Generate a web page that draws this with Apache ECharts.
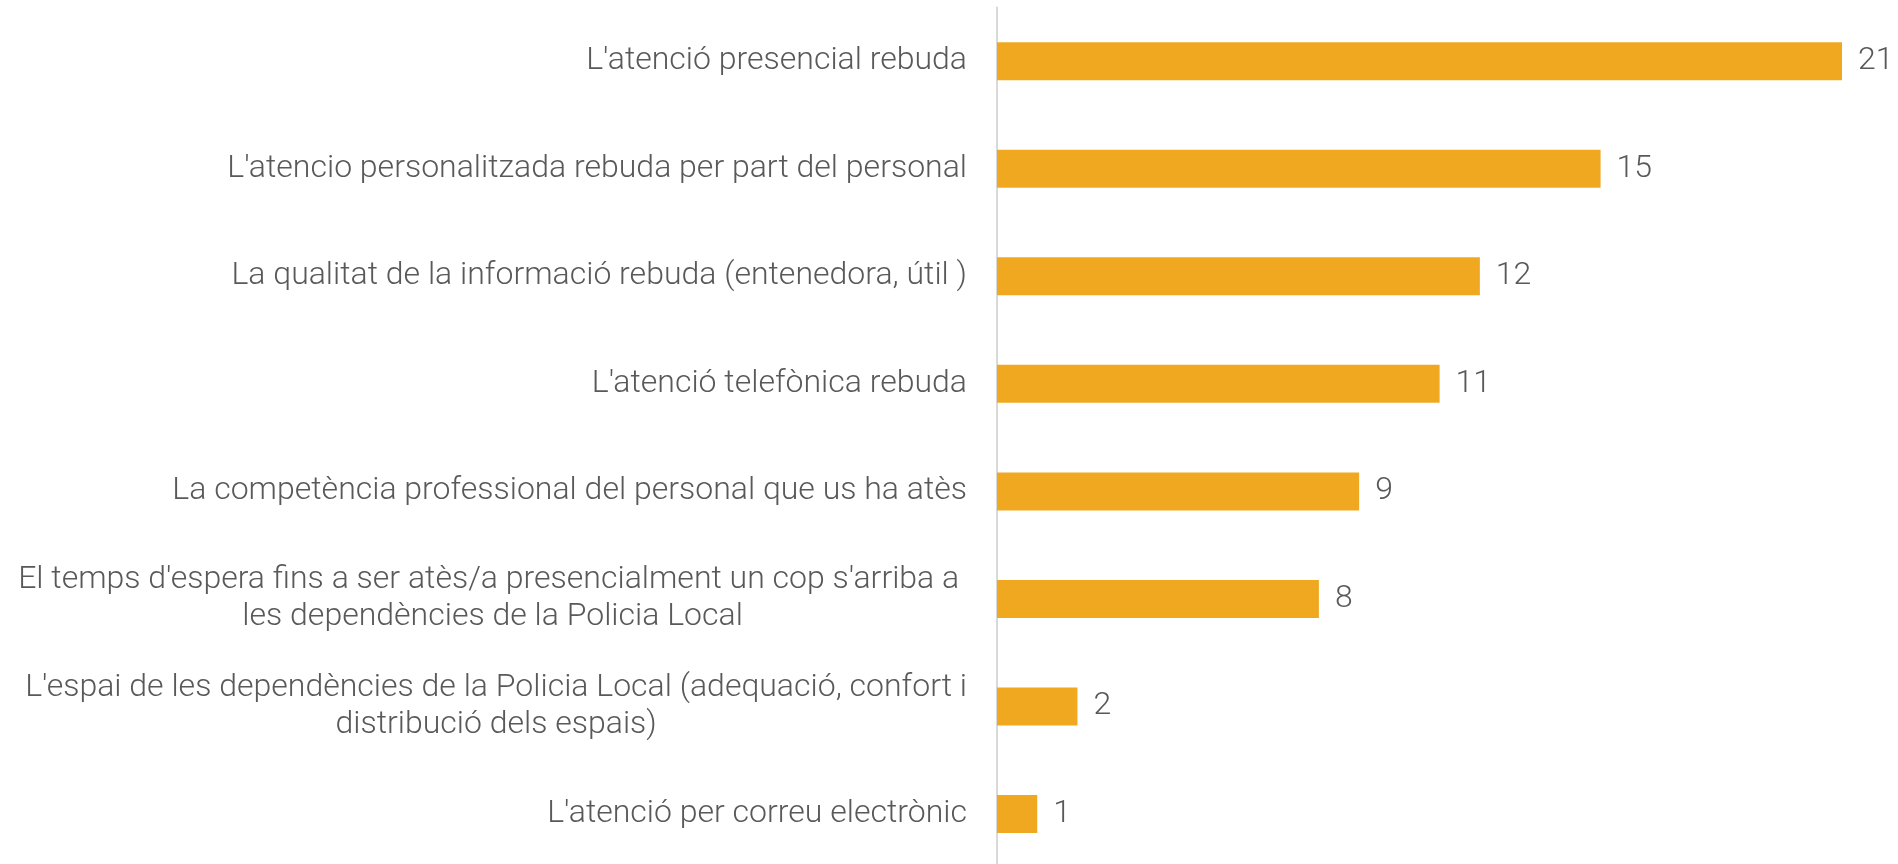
<!DOCTYPE html>
<html>
<head>
<meta charset="utf-8">
<script src="https://cdn.jsdelivr.net/npm/echarts@6/dist/echarts.min.js"></script>
<style>
    html, body { margin: 0; padding: 0; background: #fff; }
    #chart { width: 1898px; height: 864px; }
</style>
</head>
<body>
<div id="chart"></div>
<script>
    'use strict';

    // categories (top to bottom)
    var categories = [
        "L'atenció presencial rebuda",
        "L'atencio personalitzada rebuda per part del personal",
        "La qualitat de la informació rebuda (entenedora, útil )",
        "L'atenció telefònica rebuda",
        "La competència professional del personal que us ha atès",
        "El temps d'espera fins a ser atès/a presencialment un cop s'arriba a \nles dependències de la Policia Local",
        "L'espai de les dependències de la Policia Local (adequació, confort i\ndistribució dels espais)",
        "L'atenció per correu electrònic"
    ];
    var values = [21, 15, 12, 11, 9, 8, 2, 1];

    var textColor = '#595959';
    var fontFamily = 'Roboto';

    var chart = echarts.init(document.getElementById('chart'));
    var option = {
        backgroundColor: '#ffffff',
        animation: false,
        grid: {
            left: 997,
            right: 56,
            top: 7.4,
            height: 860.4,
            outerBoundsMode: 'none'
        },
        xAxis: {
            type: 'value',
            min: 0,
            max: 21,
            show: false
        },
        yAxis: {
            type: 'category',
            inverse: true,
            data: categories,
            axisLine: {
                show: true,
                lineStyle: { color: '#d9d9d9', width: 2 }
            },
            axisTick: { show: false },
            splitLine: { show: false },
            axisLabel: {
                margin: 30,
                color: textColor,
                fontFamily: fontFamily,
                fontWeight: 300,
                fontSize: 32,
                lineHeight: 37,
                // every line centered inside the label block
                formatter: function (v) {
                    return v.split('\n').map(function (s) {
                        return '{c|' + s + '}';
                    }).join('\n');
                },
                rich: {
                    c: {
                        align: 'center',
                        color: textColor,
                        fontFamily: fontFamily,
                        fontWeight: 300,
                        fontSize: 32,
                        lineHeight: 37
                    }
                }
            }
        },
        series: [{
            type: 'bar',
            data: values,
            barWidth: 38,
            itemStyle: {
                color: '#F0A821'
            },
            label: {
                show: true,
                position: 'right',
                distance: 16,
                color: textColor,
                fontFamily: fontFamily,
                fontWeight: 300,
                fontSize: 32
            }
        }]
    };
    chart.setOption(option);
</script>
</body>
</html>
